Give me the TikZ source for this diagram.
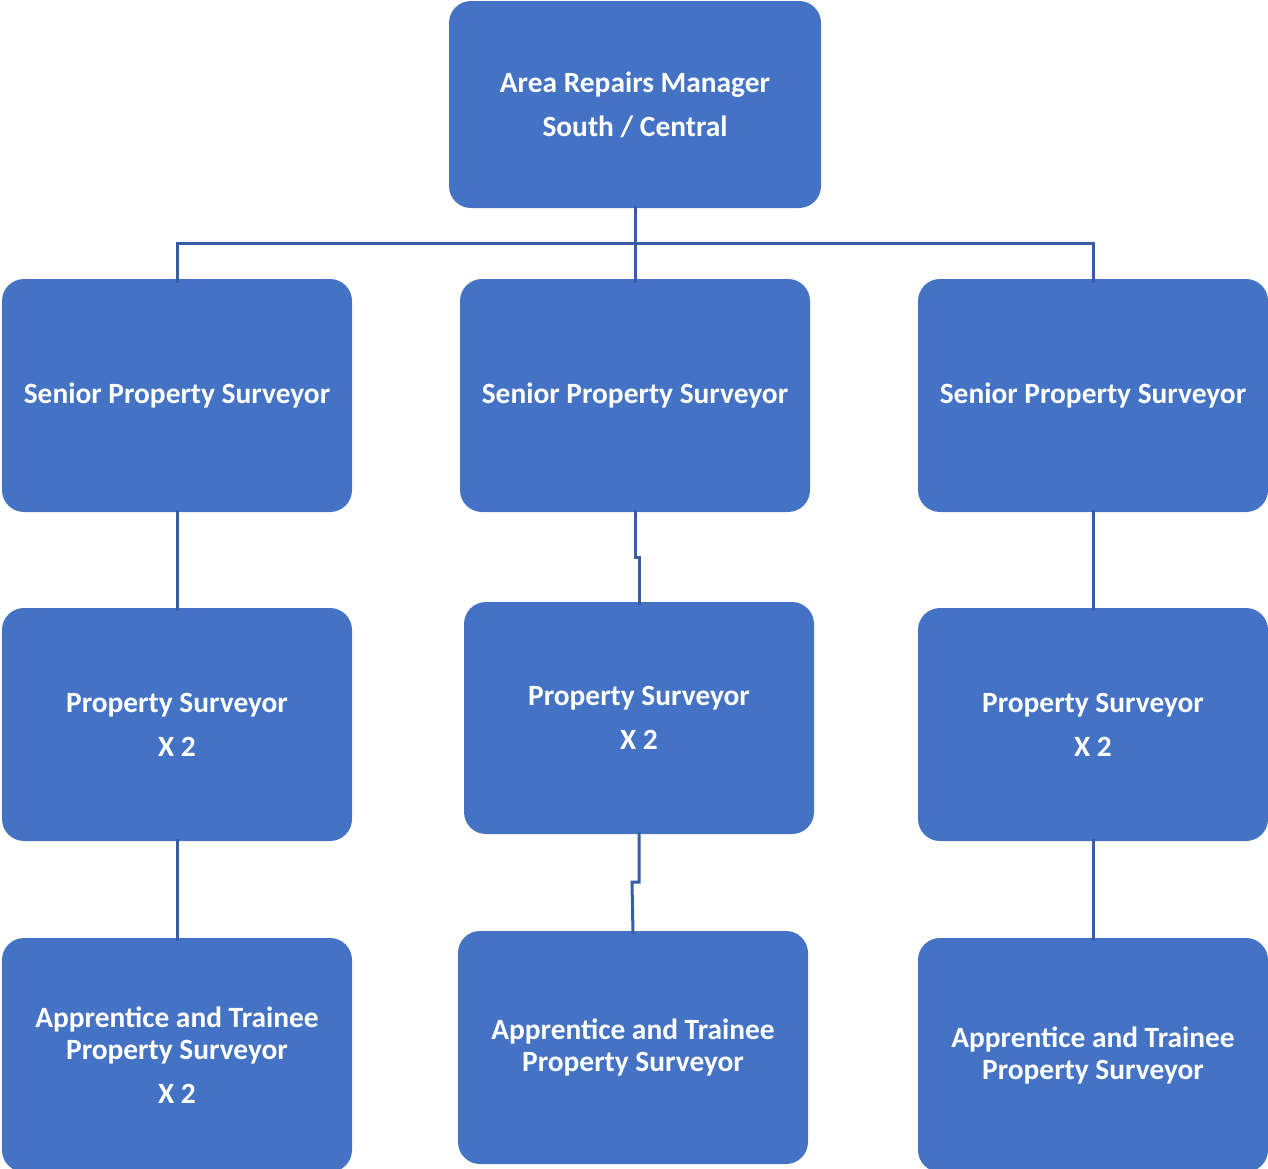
\documentclass[tikz,border=0pt]{standalone}
\usepackage{fontspec}
\setmainfont{Carlito}
\definecolor{boxblue}{RGB}{68,114,196}
\definecolor{lineblue}{RGB}{56,93,166}
\begin{document}
\begin{tikzpicture}[x=1pt,y=-1pt,
  orgbox/.style={fill=boxblue,draw=none,rounded corners=22pt,text=white,
    font=\bfseries\fontsize{29.4}{32}\selectfont,align=center,inner sep=0pt},
  link/.style={draw=lineblue,line width=3pt}]
\useasboundingbox (0,0) rectangle (1268,1168);
% boxes as rectangles with text nodes
\newcommand{\orgnode}[6]{%
  \path[orgbox] (#2,#3) rectangle (#4,#5);
  \node[orgbox,fill=none] (#1) at ({(#2+#4)/2},{(#3+#5)/2}) {#6};
  \coordinate (#1-n) at ({(#2+#4)/2},#3);
  \coordinate (#1-s) at ({(#2+#4)/2},#5);}
\orgnode{top}{449}{1}{821}{208}{Area Repairs Manager\\[12pt]South / Central}
\orgnode{sl}{2}{279}{352}{512}{Senior Property Surveyor}
\orgnode{sm}{460}{279}{810}{512}{Senior Property Surveyor}
\orgnode{sr}{918}{279}{1268}{512}{Senior Property Surveyor}
\orgnode{pl}{2}{608}{352}{841}{Property Surveyor\\[12pt]X 2}
\orgnode{pm}{464}{602}{814}{834}{Property Surveyor\\[12pt]X 2}
\orgnode{pr}{918}{608}{1268}{841}{Property Surveyor\\[12pt]X 2}
\orgnode{al}{2}{938}{352}{1172}{Apprentice and Trainee\\Property Surveyor\\[12pt]X 2}
\orgnode{am}{458}{931}{808}{1164}{Apprentice and Trainee\\Property Surveyor}
\orgnode{ar}{918}{938}{1268}{1172}{Apprentice and Trainee\\Property Surveyor}
% connectors
\draw[link] ([yshift=2pt]top-s) -- ([yshift=-4pt]sm-n);
\draw[link] ([yshift=-4pt]sl-n) |- (635,243) -| ([yshift=-4pt]sr-n);
\draw[link] ([yshift=2pt]sl-s) -- ([yshift=-3pt]pl-n);
\draw[link] ([yshift=2pt]sr-s) -- ([yshift=-3pt]pr-n);
\draw[link] ([yshift=2pt]sm-s) -- (635,557) -- (639,557) -- ([yshift=-3pt]pm-n);
\draw[link] ([yshift=2pt]pl-s) -- ([yshift=-3pt]al-n);
\draw[link] ([yshift=2pt]pr-s) -- ([yshift=-3pt]ar-n);
\draw[link] ([yshift=2pt]pm-s) -- (639,882) -- (632,882) -- ([yshift=-3pt]am-n);
\end{tikzpicture}
\end{document}
